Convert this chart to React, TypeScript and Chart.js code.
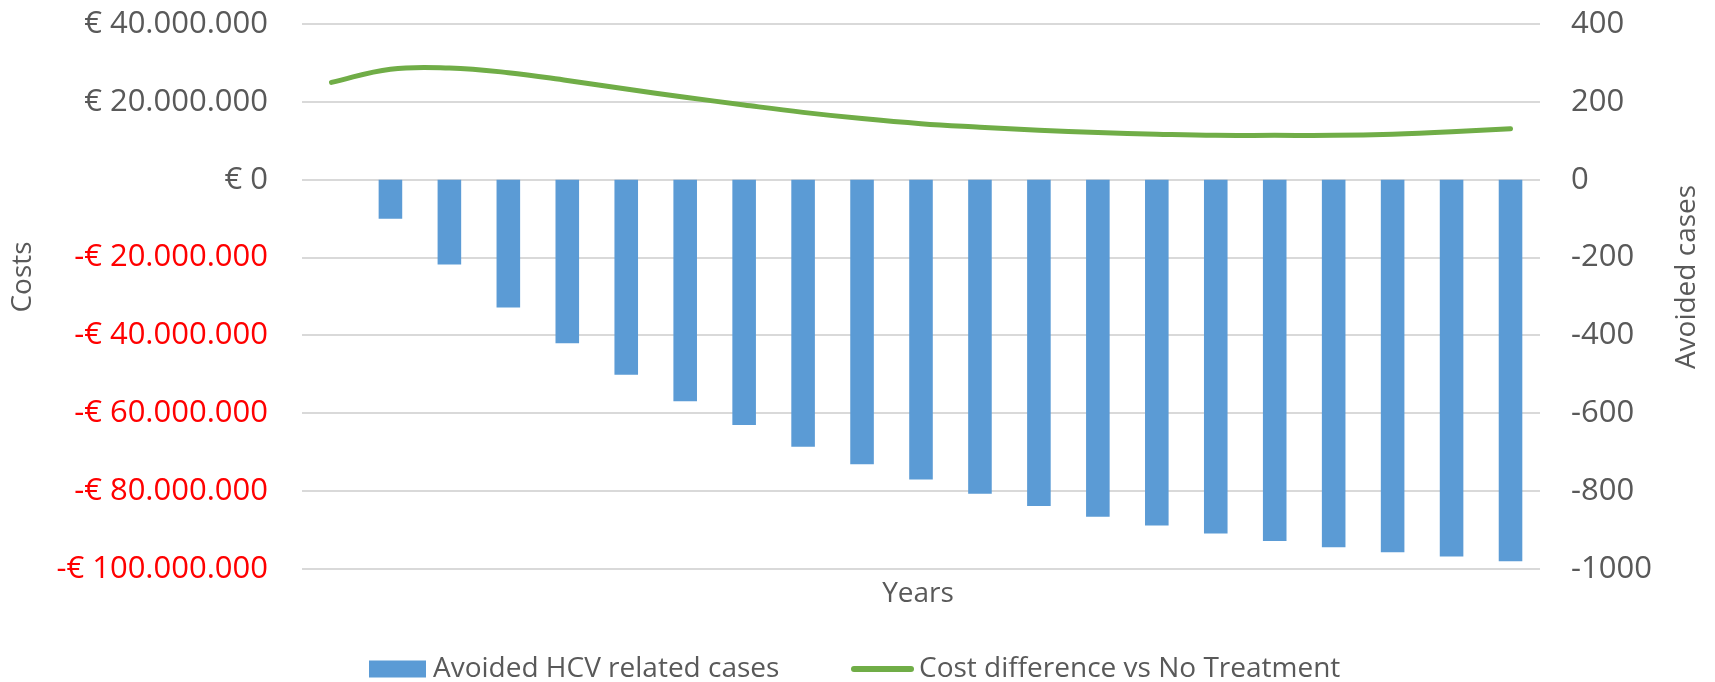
import React, { useEffect, useRef } from "react";
import { Chart, registerables } from "chart.js";

Chart.register(...registerables);

const years = ["0", "1", "2", "3", "4", "5", "6", "7", "8", "9", "10", "11", "12", "13", "14", "15", "16", "17", "18", "19", "20"];
const avoidedCases = [0, -100, -218, -328, -420, -501, -569, -630, -686, -731, -770, -807, -838, -866, -888, -909, -928, -944, -957, -968, -980];
const costDifference = [25000000, 28400000, 28700000, 27500000, 25500000, 23300000, 21200000, 19200000, 17300000, 15700000, 14400000, 13500000, 12700000, 12100000, 11700000, 11400000, 11400000, 11400000, 11700000, 12300000, 13100000];
const barLabel = "Avoided HCV related cases";
const lineLabel = "Cost difference vs No Treatment";
const leftTitle = "Costs";
const rightTitle = "Avoided cases";
const xTitle = "Years";

const FONT = "'Open Sans', sans-serif";
const GRAY = "#595959";
const RED = "#FF0000";
const BLUE = "#5B9BD5";
const GREEN = "#70AD47";

function euro(v: number): string {
  const s = Math.abs(Math.round(v)).toString().replace(/\B(?=(\d{3})+(?!\d))/g, ".");
  return (v < 0 ? "-€ " : "€ ") + s;
}

const decorPlugin = {
  id: "decor",
  afterDraw(chart: any) {
    const ctx = chart.ctx;
    const area = chart.chartArea;
    ctx.save();
    ctx.fillStyle = GRAY;
    ctx.font = `28px ${FONT}`;
    ctx.textAlign = "center";
    ctx.textBaseline = "middle";
    // axis titles
    ctx.save();
    ctx.translate(23, 277);
    ctx.rotate(-Math.PI / 2);
    ctx.fillText(leftTitle, 0, 0);
    ctx.restore();
    ctx.save();
    ctx.translate(1687, 277);
    ctx.rotate(-Math.PI / 2);
    ctx.fillText(rightTitle, 0, 0);
    ctx.restore();
    ctx.fillText(xTitle, (area.left + area.right) / 2 - 3, 594);
    // legend
    const ly = 669;
    ctx.textAlign = "left";
    ctx.fillStyle = BLUE;
    ctx.fillRect(369, ly - 8.5, 57, 17);
    ctx.fillStyle = GRAY;
    ctx.fillText(barLabel, 433, ly);
    ctx.strokeStyle = GREEN;
    ctx.lineWidth = 6;
    ctx.lineCap = "round";
    ctx.beginPath();
    ctx.moveTo(854, ly);
    ctx.lineTo(911, ly);
    ctx.stroke();
    ctx.fillText(lineLabel, 919, ly);
    ctx.restore();
  },
};

export default function App() {
  const ref = useRef<HTMLCanvasElement>(null);
  useEffect(() => {
    if (!ref.current) return;
    const chart = new Chart(ref.current, {
      type: "bar",
      data: {
        labels: years,
        datasets: [
          {
            type: "line",
            label: lineLabel,
            data: costDifference,
            yAxisID: "y",
            borderColor: GREEN,
            backgroundColor: GREEN,
            borderWidth: 5,
            pointRadius: 0,
            tension: 0.4,
            borderCapStyle: "round",
            order: 0,
          } as any,
          {
            type: "bar",
            label: barLabel,
            data: avoidedCases,
            yAxisID: "y1",
            backgroundColor: BLUE,
            borderWidth: 0,
            categoryPercentage: 1,
            barPercentage: 0.4,
            order: 1,
          } as any,
        ],
      },
      options: {
        responsive: false,
        animation: false,
        devicePixelRatio: 1,
        layout: { padding: { top: 24, bottom: 113, left: 0, right: 0 } },
        plugins: { legend: { display: false }, tooltip: { enabled: false } },
        scales: {
          x: { display: false, offset: true },
          y: {
            position: "left",
            min: -100000000,
            max: 40000000,
            border: { display: false },
            grid: { color: "#D9D9D9", lineWidth: 2, drawTicks: false },
            ticks: {
              stepSize: 20000000,
              padding: 34,
              font: { family: FONT, size: 31 },
              color: (c: any) => (c.tick && c.tick.value < 0 ? RED : GRAY),
              callback: (v: any) => euro(Number(v)),
            },
            afterFit: (s: any) => {
              s.width = 302;
              s.paddingTop = 0;
              s.paddingBottom = 0;
            },
          },
          y1: {
            position: "right",
            min: -1000,
            max: 400,
            border: { display: false },
            grid: { display: false, drawTicks: false },
            ticks: {
              stepSize: 200,
              padding: 31,
              font: { family: FONT, size: 31 },
              color: GRAY,
              callback: (v: any) => String(v),
            },
            afterFit: (s: any) => {
              s.width = 175;
              s.paddingTop = 0;
              s.paddingBottom = 0;
            },
          },
        },
      } as any,
      plugins: [decorPlugin],
    });
    return () => chart.destroy();
  }, []);
  return (
    <div style={{ position: "fixed", left: 0, top: 0, width: 1715, height: 682, background: "#fff" }}>
      <canvas ref={ref} width={1715} height={682} style={{ display: "block" }} />
    </div>
  );
}
